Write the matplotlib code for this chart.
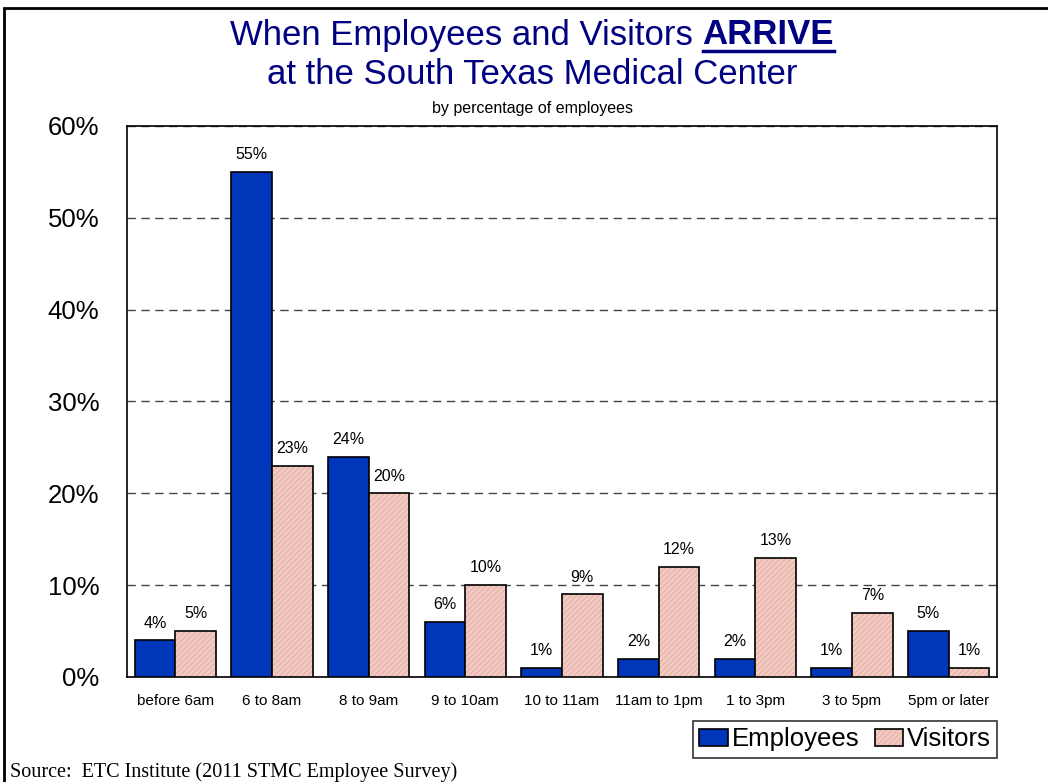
import numpy as np
import matplotlib.pyplot as plt
from matplotlib.patches import Rectangle
from matplotlib.lines import Line2D
from matplotlib.legend_handler import HandlerTuple

plt.rcParams['font.family'] = ['Liberation Sans', 'DejaVu Sans']

# Data
categories = ['before 6am', '6 to 8am', '8 to 9am', '9 to 10am', '10 to 11am',
              '11am to 1pm', '1 to 3pm', '3 to 5pm', '5pm or later']
employees = [4, 55, 24, 6, 1, 2, 2, 1, 5]
visitors = [5, 23, 20, 10, 9, 12, 13, 7, 1]

blue = '#0036BA'
pink = '#F3CBC3'
hatch_col = '#E6B6AE'
navy = '#000080'

fig = plt.figure(figsize=(10.48, 7.82), dpi=100)
ax = fig.add_axes([0.1212, 0.1343, 0.8302, 0.7046])

x = np.arange(len(categories))
w = 0.42

ax.bar(x - w / 2, employees, w, color=blue, edgecolor='black', linewidth=1.2, zorder=3)
# hatched visitors: hatch drawn in a darker pink, then black outline on top
ax.bar(x + w / 2, visitors, w, color=pink, edgecolor=hatch_col, hatch='//////',
       linewidth=0, zorder=3)
ax.bar(x + w / 2, visitors, w, color='none', edgecolor='black', linewidth=1.2, zorder=4)

for xi, v in zip(x - w / 2, employees):
    ax.annotate(f'{v}%', (xi, v), xytext=(0, 7), textcoords='offset points',
                ha='center', va='bottom', fontsize=11.5)
for xi, v in zip(x + w / 2, visitors):
    ax.annotate(f'{v}%', (xi, v), xytext=(0, 7), textcoords='offset points',
                ha='center', va='bottom', fontsize=11.5)

ax.set_xlim(-0.5, len(categories) - 0.5)
ax.set_ylim(0, 60)
ax.set_yticks(range(0, 61, 10))
ax.set_yticklabels([f'{t}%' for t in range(0, 61, 10)], fontsize=18.5)
ax.set_xticks(x)
ax.set_xticklabels(categories, fontsize=11)
ax.tick_params(axis='x', length=0, pad=12)
ax.tick_params(axis='y', length=0, pad=20)
ax.yaxis.grid(True, linestyle=(0, (6, 4)), color='#444444', linewidth=1, zorder=0)
ax.set_axisbelow(True)
for s in ax.spines.values():
    s.set_linewidth(1.2)

# legend
h_emp = Rectangle((0, 0), 1, 1, facecolor=blue, edgecolor='black', linewidth=1.2)
h_vis = (Rectangle((0, 0), 1, 1, facecolor=pink, edgecolor=hatch_col, hatch='//////',
                   linewidth=0),
         Rectangle((0, 0), 1, 1, facecolor='none', edgecolor='black', linewidth=1.2))
leg = fig.legend([h_emp, h_vis], ['Employees', 'Visitors'], loc='upper right',
                 bbox_to_anchor=(997 / 1048, 1 - 721 / 782), ncol=2, fontsize=18.5,
                 frameon=True, fancybox=False, edgecolor='black', borderpad=0.25,
                 handlelength=1.1, handleheight=0.6, handletextpad=0.15,
                 columnspacing=0.6, borderaxespad=0,
                 handler_map={tuple: HandlerTuple(ndivide=1, pad=0)})
leg.get_frame().set_linewidth(1.2)

# titles
fs_title = 25
cx = 532 / 1048
y1 = 1 - 35 / 782
part1 = 'When Employees and Visitors '
part2 = 'ARRIVE'
r = fig.canvas.get_renderer()
t1 = fig.text(0, y1, part1, fontsize=fs_title, color=navy, va='center')
t2 = fig.text(0, y1, part2, fontsize=fs_title, color=navy, va='center', fontweight='bold')
w1 = t1.get_window_extent(r).width / fig.bbox.width
w2 = t2.get_window_extent(r).width / fig.bbox.width
x0 = cx - (w1 + w2) / 2
t1.set_x(x0)
t2.set_x(x0 + w1)
ul_y = 1 - 51 / 782
fig.add_artist(Line2D([x0 + w1, x0 + w1 + w2], [ul_y, ul_y], color=navy, linewidth=2.5,
                      transform=fig.transFigure))

fig.text(cx, 1 - 74 / 782, 'at the South Texas Medical Center', fontsize=fs_title,
         color=navy, ha='center', va='center')
fig.text(cx, 1 - 108 / 782, 'by percentage of employees', fontsize=11.5,
         ha='center', va='center')

fig.text(10 / 1048, 1 - 772 / 782, 'Source:  ETC Institute (2011 STMC Employee Survey)',
         fontsize=14.5, family='Liberation Serif', va='center')

# outer frame
fig.add_artist(Rectangle((4 / 1048, -0.1), 1.2, 1.1 - 8 / 782, transform=fig.transFigure,
                         fill=False, edgecolor='black', linewidth=2))

fig.savefig('out.png', dpi=100)
